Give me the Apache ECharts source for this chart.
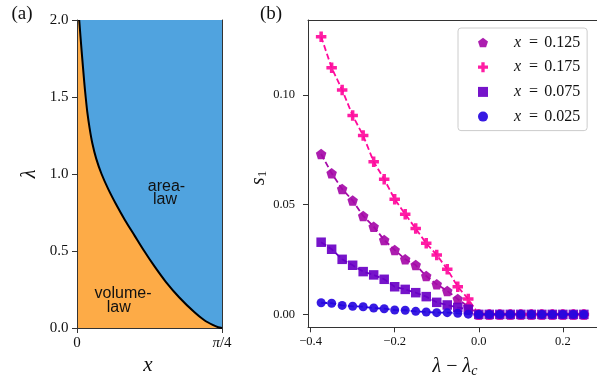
<!DOCTYPE html>
<html><head><meta charset="utf-8">
<script src="https://cdn.jsdelivr.net/npm/echarts@6/dist/echarts.min.js"></script>
<style>html,body{margin:0;padding:0;background:#fff}#c{width:597px;height:383px}</style>
</head><body><div id="c"></div>
<script>
// ---------- panel (a): phase boundary lambda_c(x) ----------
const phaseX      = [0.012, 0.025, 0.039, 0.047, 0.056, 0.068, 0.083, 0.104, 0.133, 0.170, 0.213, 0.260, 0.312, 0.364, 0.420, 0.481, 0.553, 0.638, 0.690, 0.735, 0.765, 0.7854];
const phaseLambda = [2.0,   1.8,   1.6,   1.5,   1.4,   1.3,   1.2,   1.1,   1.0,   0.9,   0.8,   0.7,   0.6,   0.5,   0.4,   0.3,   0.2,   0.1,   0.05,  0.02,  0.005, 0.0];
const aXTicks = [0, Math.PI / 4];
const aXTickLabels = ['0', '{i|π}/4'];
const aYTicks = [0, 0.5, 1.0, 1.5, 2.0];

// ---------- panel (b): s1 vs lambda - lambda_c ----------
const lamX = [-0.375, -0.35, -0.325, -0.3, -0.275, -0.25, -0.225, -0.2, -0.175, -0.15, -0.125, -0.1, -0.075, -0.05, -0.025,
              0, 0.025, 0.05, 0.075, 0.1, 0.125, 0.15, 0.175, 0.2, 0.225, 0.25];
const s125 = [0.0731, 0.0643, 0.0572, 0.0519, 0.0449, 0.0400, 0.0339, 0.0294, 0.0251, 0.0225, 0.0175, 0.0137, 0.0107, 0.0070, 0.0035,
              0, 0, 0, 0, 0, 0, 0, 0, 0, 0, 0];
const s175 = [0.1266, 0.1124, 0.1023, 0.0906, 0.0815, 0.0696, 0.0616, 0.0525, 0.0457, 0.0391, 0.0324, 0.0271, 0.0206, 0.0126, 0.0070,
              0, 0, 0, 0, 0, 0, 0, 0, 0, 0, 0];
const s075 = [0.0329, 0.0297, 0.0251, 0.0224, 0.0195, 0.0180, 0.0160, 0.0126, 0.0114, 0.0099, 0.0081, 0.0055, 0.0043, 0.0032, 0.0023,
              0, 0, 0, 0, 0, 0, 0, 0, 0, 0, 0];
const s025 = [0.0053, 0.0051, 0.0041, 0.0037, 0.0035, 0.0029, 0.0026, 0.0020, 0.0019, 0.0014, 0.0011, 0.0008, 0.0008, 0.0005, 0.0001,
              0, 0, 0, 0, 0, 0, 0, 0, 0, 0, 0];
const seriesNames = ['x = 0.125', 'x = 0.175', 'x = 0.075', 'x = 0.025'];
const bXTicks = [-0.4, -0.2, 0.0, 0.2];
const bYTicks = [0.0, 0.05, 0.10];

// ---------- styling ----------
const serif = "'Liberation Serif', 'DejaVu Serif', serif";
const sans = "'Liberation Sans', Arial, sans-serif";
const axisColor = '#333';
const txt = '#111';
const pentagon = 'path://M0,-1 L0.951,-0.309 L0.588,0.809 L-0.588,0.809 L-0.951,-0.309 Z';
const plusP = 'path://M-1,-3 L1,-3 L1,-1 L3,-1 L3,1 L1,1 L1,3 L-1,3 L-1,1 L-3,1 L-3,-1 L-1,-1 Z';
const colors = ['#a50aa8', '#ff0a9c', '#6a00c6', '#2606e0'];
const symbols = [pentagon, plusP, 'rect', 'circle'];
const symSizes = [10.5, 10.5, 9.5, 9];

const zip = (a, b) => a.map((v, i) => [v, b[i]]);
const bSeries = [s125, s175, s075, s025];

function lineAxis(extra) {
  return Object.assign({
    type: 'value', splitLine: { show: false },
    axisLine: { show: true, onZero: false, lineStyle: { color: axisColor, width: 1 } },
    axisTick: { show: false }, axisLabel: { show: false }
  }, extra);
}
const tickStyle = { color: axisColor, width: 1 };

const chart = echarts.init(document.getElementById('c'));
const option = {
  animation: false,
  grid: [
    { left: 77, top: 20, width: 145, height: 308, show: true, backgroundColor: '#fdab47', borderWidth: 0 },
    { left: 308, top: 20, width: 292, height: 307.3, show: false }
  ],
  xAxis: [
    lineAxis({ gridIndex: 0, min: 0, max: Math.PI / 4, position: 'bottom',
      axisTick: { show: true, length: 5, inside: false, customValues: aXTicks, lineStyle: tickStyle },
      axisLabel: { show: true, customValues: aXTicks, margin: 8, fontSize: 15, fontFamily: serif, color: txt,
        formatter: v => aXTickLabels[aXTicks.findIndex(t => Math.abs(t - v) < 1e-6)],
        rich: { i: { fontStyle: 'italic', fontSize: 15, fontFamily: serif, color: txt } } } }),
    lineAxis({ gridIndex: 0, min: 0, max: Math.PI / 4, position: 'top' }),
    lineAxis({ gridIndex: 1, min: -0.40625, max: 0.28125, position: 'bottom',
      axisTick: { show: true, length: 5, customValues: bXTicks, lineStyle: tickStyle },
      axisLabel: { show: true, customValues: bXTicks, margin: 8, fontSize: 12.5, fontFamily: serif, color: txt,
        formatter: v => (v < -1e-9 ? '\u2212' + (-v).toFixed(1) : Math.abs(v).toFixed(1)) } }),
    lineAxis({ gridIndex: 1, min: -0.40625, max: 0.28125, position: 'top' })
  ],
  yAxis: [
    lineAxis({ gridIndex: 0, min: 0, max: 2, position: 'left',
      axisTick: { show: true, length: 5, customValues: aYTicks, lineStyle: tickStyle },
      axisLabel: { show: true, customValues: aYTicks, margin: 8.5, fontSize: 15, fontFamily: serif, color: txt,
        formatter: v => v.toFixed(1) } }),
    lineAxis({ gridIndex: 0, min: 0, max: 2, position: 'right' }),
    lineAxis({ gridIndex: 1, min: -0.00588, max: 0.13418, position: 'left',
      axisTick: { show: true, length: 5, customValues: bYTicks, lineStyle: tickStyle },
      axisLabel: { show: true, customValues: bYTicks, margin: 13, fontSize: 12.5, fontFamily: serif, color: txt,
        formatter: v => v.toFixed(2) } })
  ],
  legend: {
    left: 458, top: 28, orient: 'vertical', selectedMode: false,
    itemWidth: 10, itemHeight: 10, itemGap: 6.7,
    padding: [5.5, 7, 5, 20],
    borderColor: '#cccccc', borderWidth: 1, borderRadius: 3, backgroundColor: 'rgba(255,255,255,0.8)',
    data: seriesNames.map((n, i) => ({ name: n, icon: symbols[i] })),
    formatter: n => '{i|x}{e|=}{n|' + n.split('= ')[1] + '}',
    textStyle: {
      color: txt, fontFamily: serif, fontSize: 16, lineHeight: 18,
      rich: {
        i: { fontStyle: 'italic', fontFamily: serif, fontSize: 16, color: txt, lineHeight: 18, height: 18, padding: [0, 0, 0, 21] },
        e: { fontFamily: serif, fontSize: 16, color: txt, lineHeight: 18, height: 18, padding: [0, 6, 0, 8] },
        n: { fontFamily: serif, fontSize: 16, color: txt, lineHeight: 18, height: 18 }
      }
    }
  },
  series: [
    {
      type: 'line', xAxisIndex: 0, yAxisIndex: 0, data: zip(phaseX, phaseLambda),
      smooth: 0.3, showSymbol: false, symbol: 'none', clip: true,
      lineStyle: { color: '#000', width: 2 },
      areaStyle: { color: '#50a3df', opacity: 1, origin: 'end' },
      silent: true, z: 2
    }
  ].concat(bSeries.map((s, i) => ({
    type: 'line', name: seriesNames[i], xAxisIndex: 2, yAxisIndex: 2, data: zip(lamX, s),
    symbol: symbols[i], symbolSize: symSizes[i], showSymbol: true, showAllSymbol: true,
    itemStyle: { color: colors[i], opacity: 0.92 },
    lineStyle: { color: colors[i], width: 1.8, type: [6, 3] },
    z: 3 + i, silent: true
  }))),
  graphic: { elements: [
    { type: 'text', z: 100, x: 22, y: 14, style: { text: '(a)', font: '19px ' + serif, fill: txt, align: 'center', verticalAlign: 'middle' } },
    { type: 'text', z: 100, x: 271, y: 14, style: { text: '(b)', font: '19px ' + serif, fill: txt, align: 'center', verticalAlign: 'middle' } },
    { type: 'text', z: 100, x: 30, y: 174, rotation: Math.PI / 2, style: { text: 'λ', font: 'italic 20px ' + serif, fill: txt, align: 'center', verticalAlign: 'middle' } },
    { type: 'text', z: 100, x: 148, y: 365, style: { text: 'x', font: 'italic 21px ' + serif, fill: txt, align: 'center', verticalAlign: 'middle' } },
    { type: 'text', z: 100, x: 259, y: 178, rotation: Math.PI / 2, style: {
        text: '{i|s}{s|1}', align: 'center', verticalAlign: 'middle',
        rich: { i: { font: 'italic 20px ' + serif, fill: txt }, s: { font: '13px ' + serif, fill: txt, padding: [8, 0, 0, 0] } } } },
    { type: 'text', z: 100, x: 455, y: 367, style: {
        text: '{i|λ}{m| − }{i|λ}{s|c}', align: 'center', verticalAlign: 'middle',
        rich: { i: { font: 'italic 20px ' + serif, fill: txt }, m: { font: '20px ' + serif, fill: txt }, s: { font: 'italic 14px ' + serif, fill: txt, padding: [8, 0, 0, 0] } } } },
    { type: 'text', z: 100, x: 166.5, y: 186.5, style: { text: 'area-', font: '16px ' + sans, fill: '#111', align: 'center', verticalAlign: 'middle' } },
    { type: 'text', z: 100, x: 165, y: 200, style: { text: 'law', font: '16px ' + sans, fill: '#111', align: 'center', verticalAlign: 'middle' } },
    { type: 'text', z: 100, x: 123, y: 293.5, style: { text: 'volume-', font: '16px ' + sans, fill: '#111', align: 'center', verticalAlign: 'middle' } },
    { type: 'text', z: 100, x: 118.7, y: 308, style: { text: 'law', font: '16px ' + sans, fill: '#111', align: 'center', verticalAlign: 'middle' } }
  ] }
};
chart.setOption(option);
</script>
</body></html>
